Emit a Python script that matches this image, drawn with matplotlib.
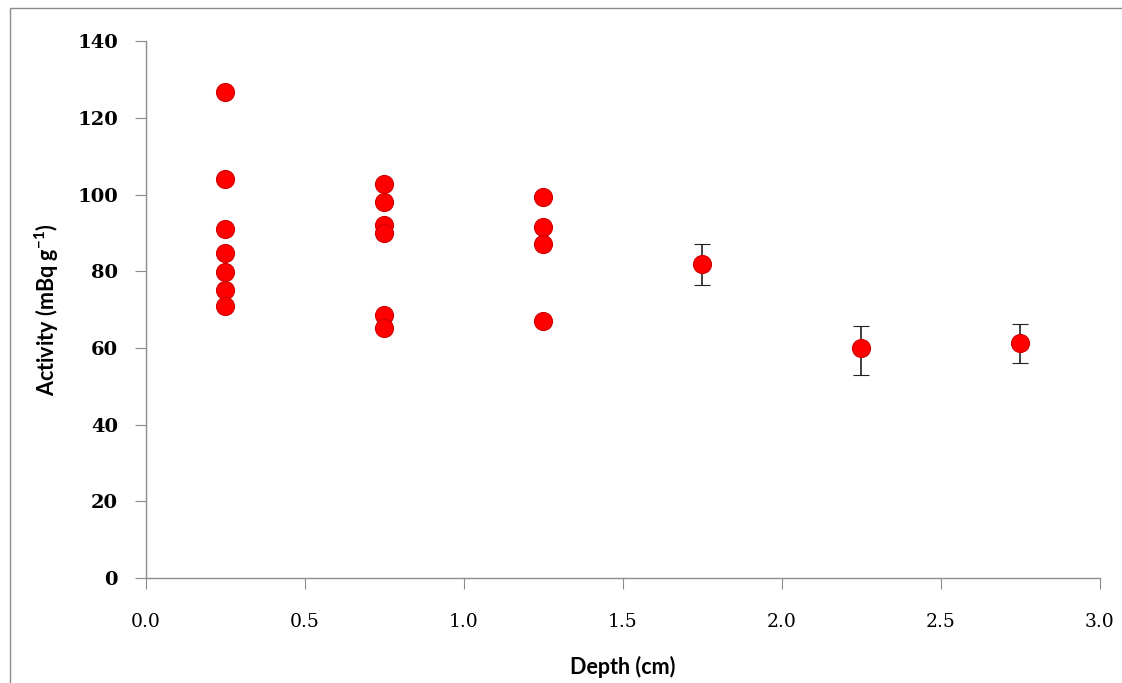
import matplotlib
matplotlib.use('Agg')
import matplotlib.pyplot as plt
from matplotlib.patches import Rectangle
import numpy as np

plt.rcParams['mathtext.fontset'] = 'custom'
plt.rcParams['mathtext.rm'] = 'Lato:bold'
plt.rcParams['mathtext.it'] = 'Lato:bold'
plt.rcParams['mathtext.bf'] = 'Lato:bold'

# scattered replicate measurements
depth_rep = [0.25] * 7 + [0.75] * 6 + [1.25] * 4
activity_rep = [126.7, 104.0, 91.0, 84.7, 79.8, 75.1, 70.9,
                102.8, 98.1, 92.0, 89.9, 68.6, 65.1,
                99.4, 91.6, 87.2, 67.1]

# single measurements with error bars
depth_err = [1.75, 2.25, 2.75]
activity_err = [82.0, 59.9, 61.4]
err_low = [5.6, 7.0, 5.3]
err_high = [5.2, 5.9, 4.8]

fig = plt.figure(figsize=(11.22, 6.83), dpi=100)
fig.patches.append(Rectangle((0.009, -0.01), 1.0, 0.998, transform=fig.transFigure,
                             fill=False, edgecolor='#8c8c8c', lw=1.0))
ax = fig.add_axes([0.130, 0.1537, 0.850, 0.786])

ax.plot(depth_rep, activity_rep, 'o', color='#ff0000', mec='#d00000', mew=0.8,
        ms=13, zorder=3)
ax.errorbar(depth_err, activity_err, yerr=[err_low, err_high], fmt='o',
            color='#ff0000', mec='#d00000', mew=0.8, ms=13,
            ecolor='#222222', elinewidth=1.2, capsize=6, capthick=1.5, zorder=3)

ax.set_xlim(0, 3.0)
ax.set_ylim(0, 140)
ax.set_xticks(np.arange(0, 3.01, 0.5))
ax.set_yticks(np.arange(0, 141, 20))
ax.set_xticklabels(['%.1f' % v for v in np.arange(0, 3.01, 0.5)])

for s in ['top', 'right']:
    ax.spines[s].set_visible(False)
for s in ['left', 'bottom']:
    ax.spines[s].set_color('#8c8c8c')
    ax.spines[s].set_linewidth(1.0)

ax.tick_params(axis='both', direction='out', length=8, color='#8c8c8c')
ax.tick_params(axis='y', labelsize=14, pad=12)
ax.tick_params(axis='x', labelsize=13.5, pad=17)
for lab in ax.get_yticklabels() + ax.get_xticklabels():
    lab.set_fontfamily('DejaVu Serif')
for lab in ax.get_yticklabels():
    lab.set_fontweight('bold')

ax.set_xlabel('Depth (cm)', fontsize=15.5, fontweight='bold', family='Lato',
              labelpad=18)
ax.set_ylabel('Activity (mBq g$^{-1}$)', fontsize=15.5, fontweight='bold',
              family='Lato', labelpad=12)

fig.savefig('out.png', dpi=100)
